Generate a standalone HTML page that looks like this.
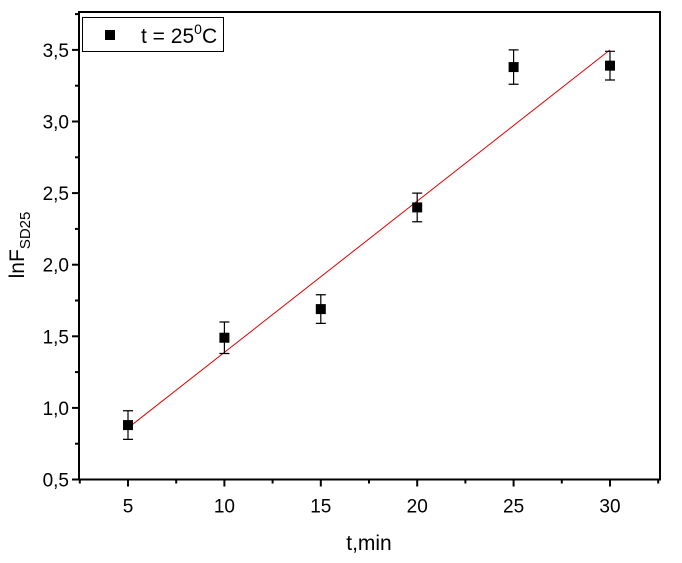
<!DOCTYPE html>
<html><head><meta charset="utf-8"><style>
body{margin:0;background:#fff}
svg text{font-family:"Liberation Sans",Arial,sans-serif;fill:#000}
</style></head><body>
<svg id="chart" width="682" height="558" xmlns="http://www.w3.org/2000/svg">
<g id="g"></g>
</svg>
<script>
const xValues=[5,10,15,20,25,30];
const yValues=[0.88,1.49,1.69,2.40,3.38,3.39];
const yErrors=[0.1,0.11,0.1,0.1,0.12,0.1];
const xTicks=[5,10,15,20,25,30];
const yTicks=[0.5,1.0,1.5,2.0,2.5,3.0,3.5];
const fitLine=[[5,0.86],[30,3.5]];
const L=79,R=660,T=12,B=479.5;
const xs=v=>128+(v-5)*19.28;
const ys=v=>479.5-(v-0.5)*143.2;
const g=document.getElementById('g');
const NS='http://www.w3.org/2000/svg';
function mk(t,a,p){const e=document.createElementNS(NS,t);for(const k in a)e.setAttribute(k,a[k]);(p||g).appendChild(e);return e;}
let e;
e=mk('rect',{x:L,y:T,width:R-L,height:B-T,fill:'none',stroke:'#000','stroke-width':2});


for(let v=2.5;v<=32.5;v+=2.5){const major=(v%5===0);
 e=mk('line',{x1:xs(v),x2:xs(v),y1:B,y2:B+(major?7:4),stroke:'#000','stroke-width':2});
 
 }
xTicks.forEach(v=>{e=mk('text',{x:xs(v),y:B+33,'font-size':19,'text-anchor':'middle'});e.textContent=v;
 
 });
for(let v=0.5;v<=3.75;v+=0.25){const major=Math.abs(v*2-Math.round(v*2))<1e-6;
 e=mk('line',{x1:L,x2:L-(major?7:4),y1:ys(v),y2:ys(v),stroke:'#000','stroke-width':2});
 
 }
yTicks.forEach(v=>{e=mk('text',{x:L-10,y:ys(v)+7,'font-size':19,'text-anchor':'end'});e.textContent=v.toFixed(1).replace('.',',');
 
 });
e=mk('text',{x:369,y:550,'font-size':21,'text-anchor':'middle'});e.textContent='t,min';


e=mk('text',{transform:'translate(24,245) rotate(-90)','font-size':21,'text-anchor':'middle'});
e.innerHTML='lnF<tspan font-size="15" dy="6">SD25</tspan>';


e=mk('line',{x1:xs(fitLine[0][0]),y1:ys(fitLine[0][1]),x2:xs(fitLine[1][0]),y2:ys(fitLine[1][1]),stroke:'#e00000','stroke-width':1});


xValues.forEach((x,i)=>{const cx=xs(x),cy=ys(yValues[i]),t=ys(yValues[i]+yErrors[i]),b=ys(yValues[i]-yErrors[i]);
 e=mk('path',{d:`M${cx},${t}V${b}M${cx-5},${t}H${cx+5}M${cx-5},${b}H${cx+5}`,stroke:'#000','stroke-width':1.2,fill:'none'});
 
 
 e=mk('rect',{x:cx-5,y:cy-5,width:10,height:10,fill:'#000'});
 
 });
e=mk('rect',{x:82.5,y:17.5,width:141,height:34,fill:'#fff',stroke:'#000','stroke-width':1});


e=mk('rect',{x:105,y:30,width:10,height:10,fill:'#000'});


e=mk('text',{x:141,y:43,'font-size':21});e.innerHTML='t = 25<tspan font-size="14" dy="-9">0</tspan><tspan dy="9">C</tspan>';


</script>
</body></html>
